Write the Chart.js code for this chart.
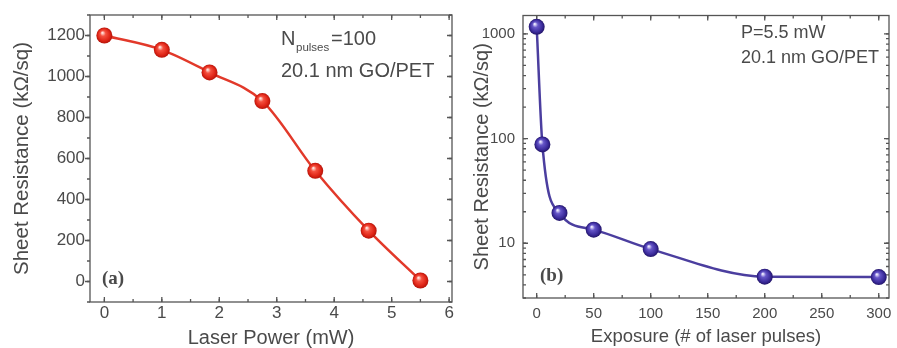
<!DOCTYPE html>
<html>
<head>
<meta charset="utf-8">
<title>Sheet resistance vs laser power and exposure</title>
<script src="https://cdn.jsdelivr.net/npm/chart.js@4/dist/chart.umd.min.js"></script>
<style>
    body { margin: 0; background: #fff; }
    .panel { position: absolute; top: 0; }
    #panelA { left: 0; }
    #panelB { left: 460px; }
</style>
</head>
<body>
<div class="panel" id="panelA"><canvas id="powerChart" width="460" height="348"></canvas></div>
<div class="panel" id="panelB"><canvas id="exposureChart" width="437" height="348"></canvas></div>
<script>
// Panel (a): resistance after 100 pulses at each laser power
const laserPower = [0, 1, 1.83, 2.75, 3.67, 4.6, 5.5];
const resistanceByPower = [1200, 1130, 1020, 880, 540, 248, 5];
const powerTicks = [0, 1, 2, 3, 4, 5, 6];
const resistanceTicksA = [0, 200, 400, 600, 800, 1000, 1200];

// Panel (b): resistance at 5.5 mW vs number of pulses
const pulseCount = [0, 5, 20, 50, 100, 200, 300];
const resistanceByPulses = [1170, 88, 19.5, 13.5, 8.8, 4.8, 4.75];
const pulseTicks = [0, 50, 100, 150, 200, 250, 300];
const resistanceTicksB = [10, 100, 1000];

const TEXT = '#4a4a4a';
const SANS = "'Liberation Sans', Arial, sans-serif";

// shaded sphere for each marker
function sphere(colors) {
    return function(context) {
        const chart = context.chart;
        const p = context.parsed;
        if (!p || !chart.scales.x) return colors[2];
        const x = chart.scales.x.getPixelForValue(p.x);
        const y = chart.scales.y.getPixelForValue(p.y);
        if (!isFinite(x) || !isFinite(y)) return colors[2];
        const r = 8;
        const g = chart.ctx.createRadialGradient(x - r * 0.25, y - r * 0.35, 0.5, x, y, r);
        g.addColorStop(0, colors[0]);
        g.addColorStop(0.3, colors[1]);
        g.addColorStop(0.75, colors[2]);
        g.addColorStop(1, colors[3]);
        return g;
    };
}

function fixedTicks(values) {
    return function(scale) {
        scale.ticks = values.map(value => ({ value }));
    };
}

function minorLinear(scale, step) {
    const out = [];
    for (let v = Math.ceil(scale.min / step) * step; v <= scale.max + 1e-9; v += step) out.push(v);
    return out;
}

function minorLog(scale) {
    const out = [];
    for (let d = Math.pow(10, Math.floor(Math.log10(scale.min))); d <= scale.max; d *= 10) {
        for (let k = 1; k < 10; k++) {
            const v = d * k;
            if (v >= scale.min && v <= scale.max) out.push(v);
        }
    }
    return out;
}

// box around the plot with major/minor ticks on every side
const frameTicks = {
    id: 'frameTicks',
    beforeDatasetsDraw(chart, args, opts) {
        const { ctx, chartArea: a, scales } = chart;
        const xs = scales.x, ys = scales.y;
        ctx.save();
        ctx.strokeStyle = '#555';
        ctx.lineWidth = 1.3;
        ctx.strokeRect(a.left, a.top, a.right - a.left, a.bottom - a.top);

        const tick = (vals, len, horizontal) => {
            vals.forEach(v => {
                ctx.beginPath();
                if (horizontal) {
                    const px = xs.getPixelForValue(v);
                    ctx.moveTo(px, a.bottom); ctx.lineTo(px, a.bottom - len);
                    ctx.moveTo(px, a.top); ctx.lineTo(px, a.top + len);
                } else {
                    const py = ys.getPixelForValue(v);
                    const dir = opts.leftOut ? -1 : 1;
                    ctx.moveTo(a.left, py); ctx.lineTo(a.left + dir * len, py);
                    ctx.moveTo(a.right, py); ctx.lineTo(a.right - len, py);
                }
                ctx.stroke();
            });
        };
        tick(xs.ticks.map(t => t.value), 5, true);
        tick(minorLinear(xs, opts.xMinor), 3, true);
        tick(ys.ticks.map(t => t.value), 5, false);
        tick(opts.yMinor ? minorLinear(ys, opts.yMinor) : minorLog(ys), 3, false);
        ctx.restore();
    },
    afterDraw(chart, args, opts) {
        const ctx = chart.ctx;
        ctx.save();
        ctx.fillStyle = TEXT;
        ctx.textBaseline = 'alphabetic';
        (opts.labels || []).forEach(l => {
            ctx.font = l.font;
            ctx.fillText(l.text, l.x, l.y);
        });
        ctx.restore();
    }
};

function axisFont(size) {
    return { family: SANS, size: size, lineHeight: 1 };
}

function buildOptions(cfg) {
    return {
        responsive: false,
        animation: false,
        events: [],
        layout: { padding: cfg.padding },
        plugins: {
            legend: { display: false },
            tooltip: { enabled: false },
            frameTicks: cfg.frame
        },
        scales: {
            x: {
                type: 'linear',
                min: cfg.xMin,
                max: cfg.xMax,
                afterBuildTicks: fixedTicks(cfg.xTicks),
                afterFit: s => { s.height = cfg.xHeight; },
                // hidden tick length pushes the labels down without widening the side padding
                grid: { display: false, drawTicks: cfg.xTickLen > 0, tickLength: cfg.xTickLen },
                border: { display: false },
                ticks: { color: TEXT, font: axisFont(cfg.tickSize), padding: cfg.xPad, maxRotation: 0, callback: v => String(v) },
                title: { display: true, text: cfg.xTitle, color: TEXT, font: axisFont(cfg.xTitleSize), padding: { top: 0, bottom: cfg.xTitlePad } }
            },
            y: {
                type: cfg.yType,
                min: cfg.yMin,
                max: cfg.yMax,
                afterBuildTicks: fixedTicks(cfg.yTicks),
                afterFit: s => { s.width = cfg.yWidth; },
                grid: { display: false, drawTicks: false },
                border: { display: false },
                ticks: { color: TEXT, font: axisFont(cfg.tickSize), padding: cfg.yPad, callback: v => String(v) },
                title: { display: true, text: 'Sheet Resistance (k\u03A9/sq)', color: TEXT, font: axisFont(cfg.yTitleSize), padding: { top: 12, bottom: 0 } }
            }
        }
    };
}

function dataset(xs, ys, line, colors) {
    return {
        data: xs.map((x, i) => ({ x: x, y: ys[i] })),
        borderColor: line,
        borderWidth: 2.5,
        cubicInterpolationMode: 'monotone',
        pointRadius: 8,
        pointBorderWidth: 0,
        pointBackgroundColor: sphere(colors),
        clip: false
    };
}

new Chart(document.getElementById('powerChart'), {
    type: 'line',
    data: { datasets: [dataset(laserPower, resistanceByPower, '#e2392a', ['#ffe2dc', '#f5503f', '#de2416', '#b3140a'])] },
    plugins: [frameTicks],
    options: buildOptions({
        padding: { top: 15, right: 5, left: 0, bottom: 0 },
        xMin: -0.25, xMax: 6.05, xTicks: powerTicks, xHeight: 46, xPad: 1, xTickLen: 2,
        yType: 'linear', yMin: -100, yMax: 1300, yTicks: resistanceTicksA, yWidth: 90, yPad: 5,
        tickSize: 17, xTitle: 'Laser Power (mW)', xTitleSize: 20, xTitlePad: 0, yTitleSize: 20.5,
        frame: {
            xMinor: 0.5, yMinor: 100, leftOut: true,
            labels: [
                { text: 'N', x: 281, y: 45, font: '20px ' + SANS },
                { text: 'pulses', x: 296, y: 51, font: '11.5px ' + SANS },
                { text: '=100', x: 331, y: 45, font: '20px ' + SANS },
                { text: '20.1 nm GO/PET', x: 281, y: 77, font: '20px ' + SANS },
                { text: '(a)', x: 102, y: 284, font: "bold 19px 'Liberation Serif', 'Times New Roman', serif" }
            ]
        }
    })
});

new Chart(document.getElementById('exposureChart'), {
    type: 'line',
    data: { datasets: [dataset(pulseCount, resistanceByPulses, '#4b3e9f', ['#ebe8ff', '#6656c8', '#3b2b9b', '#221468'])] },
    plugins: [frameTicks],
    options: buildOptions({
        padding: { top: 12, right: 4, left: 0, bottom: 0 },
        xMin: -12, xMax: 309, xTicks: pulseTicks, xHeight: 50, xPad: 1, xTickLen: 7,
        yType: 'logarithmic', yMin: 3, yMax: 1500, yTicks: resistanceTicksB, yWidth: 63, yPad: 8,
        tickSize: 15, xTitle: 'Exposure (# of laser pulses)', xTitleSize: 18.5, xTitlePad: 2, yTitleSize: 20,
        frame: {
            xMinor: 25, yMinor: 0, leftOut: false,
            labels: [
                { text: 'P=5.5 mW', x: 281, y: 38, font: '18px ' + SANS },
                { text: '20.1 nm GO/PET', x: 281, y: 63, font: '18px ' + SANS },
                { text: '(b)', x: 80, y: 281, font: "bold 19px 'Liberation Serif', 'Times New Roman', serif" }
            ]
        }
    })
});
</script>
</body>
</html>
